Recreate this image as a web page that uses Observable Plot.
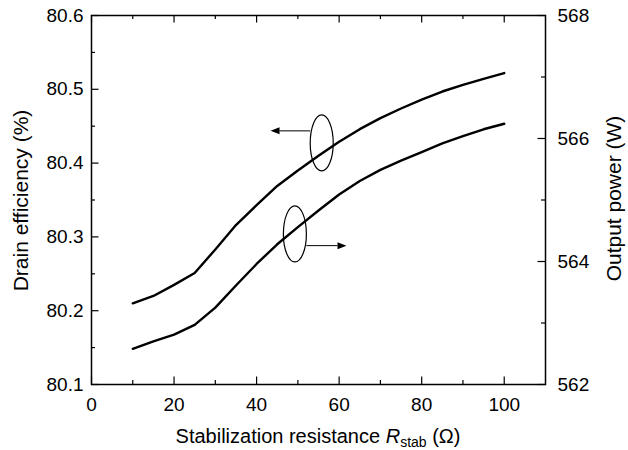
<!DOCTYPE html>
<html><head><meta charset="utf-8">
<script src="https://cdn.jsdelivr.net/npm/d3@7"></script>
<script src="https://cdn.jsdelivr.net/npm/@observablehq/plot@0.6"></script>
<style>body{margin:0;background:#fff} svg{display:block}</style>
</head><body><div id="chart"></div>
<script>
// ---- data ----
const resistance = [10,15,20,25,30,35,40,45,50,55,60,65,70,75,80,85,90,95,100];
const efficiency = [80.210,80.220,80.235,80.251,80.283,80.316,80.343,80.369,80.390,80.410,80.429,80.446,80.461,80.474,80.486,80.497,80.506,80.514,80.522];
const power = [562.58,562.70,562.81,562.97,563.25,563.61,563.96,564.28,564.56,564.83,565.09,565.31,565.49,565.64,565.78,565.92,566.04,566.15,566.24];
const xTicks = [0,20,40,60,80,100];
const xMinor = [10,30,50,70,90];
const effTicks = [80.1,80.2,80.3,80.4,80.5,80.6];
const effMinor = [80.15,80.25,80.35,80.45,80.55];
const powerTicks = [562,564,566,568];
const powerMinor = [563,565,567];
const yLabelLeft = "Drain efficiency (%)";
const yLabelRight = "Output power (W)";
// annotation anchors (data units)
const effMarker = {x: 55.9, eff: 80.4266, arrowFrom: 53.1, arrowTo: 43.5, arrowY: 80.443};
const powMarker = {x: 49.4, pow: 564.44, arrowFrom: 52.2, arrowTo: 61.9, arrowY: 564.25};

// ---- dual-axis mapping (power W -> efficiency %) ----
const toEff = p => 80.1 + (p - 562) * (0.5 / 6);
const fromEff = e => 562 + (e - 80.1) * (6 / 0.5);

const W = 628, H = 450, mL = 91, mR = 83, mT = 15, mB = 66;
const iW = W - mL - mR, iH = H - mT - mB;
const major = 7.5, minor = 4;

const effData = resistance.map((r, i) => ({r, v: efficiency[i]}));
const powData = resistance.map((r, i) => ({r, v: toEff(power[i])}));

function annotations(index, scales) {
  const {x, y} = scales;
  const g = d3.create("svg:g").attr("fill", "none").attr("stroke", "black");
  const items = [
    {cx: x(effMarker.x), cy: y(effMarker.eff), x1: x(effMarker.arrowFrom), x2: x(effMarker.arrowTo), ay: y(effMarker.arrowY)},
    {cx: x(powMarker.x), cy: y(toEff(powMarker.pow)), x1: x(powMarker.arrowFrom), x2: x(powMarker.arrowTo), ay: y(toEff(powMarker.arrowY))}
  ];
  for (const it of items) {
    g.append("ellipse").attr("cx", it.cx).attr("cy", it.cy).attr("rx", 11.5).attr("ry", 28).attr("stroke-width", 1.2);
    const dir = Math.sign(it.x2 - it.x1);
    const hl = 9, hw = 3.5;
    g.append("line").attr("x1", it.x1).attr("x2", it.x2 - dir * hl).attr("y1", it.ay).attr("y2", it.ay).attr("stroke-width", 1);
    g.append("path").attr("d", `M${it.x2},${it.ay}L${it.x2 - dir*hl},${it.ay - hw}L${it.x2 - dir*hl},${it.ay + hw}Z`).attr("fill", "black").attr("stroke", "none");
  }
  return g.node();
}

const plot = Plot.plot({
  width: W, height: H,
  marginLeft: mL, marginRight: mR, marginTop: mT, marginBottom: mB,
  style: {fontFamily: "'Liberation Sans', Arial, sans-serif", fontSize: "19px", color: "black", background: "white"},
  x: {domain: [0, 110], axis: null},
  y: {domain: [80.1, 80.6], axis: null},
  marks: [
    Plot.frame({stroke: "black", strokeWidth: 1.5}),
    // inward ticks
    Plot.tickY(effTicks, {y: d => d, insetRight: iW - major, stroke: "black", strokeWidth: 1.2}),
    Plot.tickY(effMinor, {y: d => d, insetRight: iW - minor, stroke: "black", strokeWidth: 1.2}),
    Plot.tickY(powerTicks.map(toEff), {y: d => d, insetLeft: iW - major, stroke: "black", strokeWidth: 1.2}),
    Plot.tickY(powerMinor.map(toEff), {y: d => d, insetLeft: iW - minor, stroke: "black", strokeWidth: 1.2}),
    Plot.tickX(xTicks, {x: d => d, insetTop: iH - major, stroke: "black", strokeWidth: 1.2}),
    Plot.tickX(xMinor, {x: d => d, insetTop: iH - minor, stroke: "black", strokeWidth: 1.2}),
    Plot.tickX(xTicks, {x: d => d, insetBottom: iH - major, stroke: "black", strokeWidth: 1.2}),
    Plot.tickX(xMinor, {x: d => d, insetBottom: iH - minor, stroke: "black", strokeWidth: 1.2}),
    // axis tick labels
    Plot.axisY(effTicks, {anchor: "left", tickSize: 0, tickPadding: 8, tickFormat: d => d.toFixed(1), fontSize: 19, label: null}),
    Plot.axisY(powerTicks.map(toEff), {anchor: "right", tickSize: 0, tickPadding: 12, tickFormat: d => String(Math.round(fromEff(d))), fontSize: 19, label: null}),
    Plot.axisX(xTicks, {anchor: "bottom", tickSize: 0, tickPadding: 13, fontSize: 19, label: null}),
    // curves
    Plot.line(effData, {x: "r", y: "v", stroke: "black", strokeWidth: 2.4}),
    Plot.line(powData, {x: "r", y: "v", stroke: "black", strokeWidth: 2.4}),
    annotations
  ]
});

const svg = d3.select(plot);
const cy = mT + iH / 2;
// y-axis titles
svg.append("text").attr("transform", `translate(28,${cy + 1}) rotate(-90)`)
  .attr("text-anchor", "middle").attr("font-size", 21).attr("fill", "black").text(yLabelLeft);
svg.append("text").attr("transform", `translate(621,${cy - 1}) rotate(-90)`)
  .attr("text-anchor", "middle").attr("font-size", 21).attr("fill", "black").text(yLabelRight);
// x-axis title with italic symbol and subscript
const t = svg.append("text")
  .attr("x", mL + iW / 2).attr("y", 443)
  .attr("text-anchor", "middle")
  .attr("font-size", 20)
  .attr("fill", "black");
t.append("tspan").text("Stabilization resistance ");
t.append("tspan").attr("font-style", "italic").text("R");
t.append("tspan").attr("font-size", 14).attr("dy", 4).text("stab");
t.append("tspan").attr("dy", -4).text(" (Ω)");

document.getElementById("chart").appendChild(plot);
</script>
</body></html>
